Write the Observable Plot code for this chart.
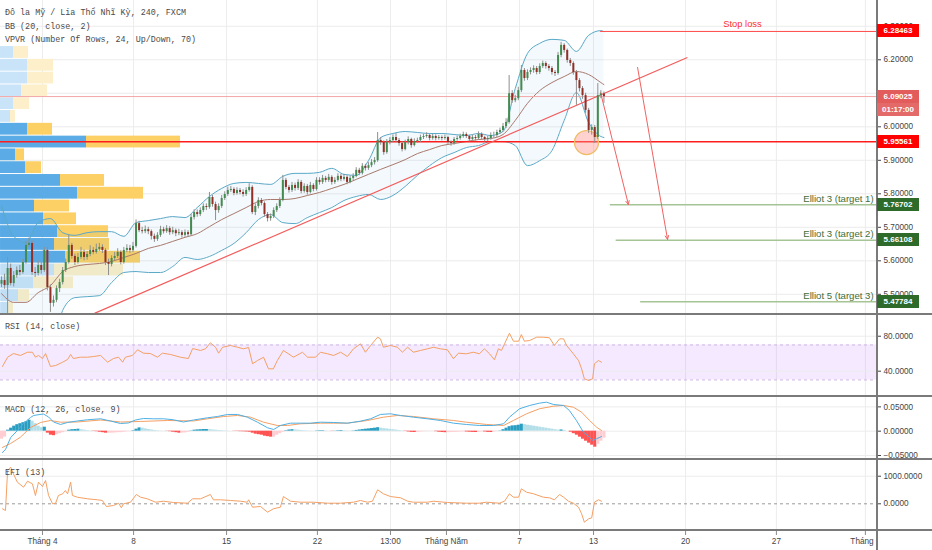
<!DOCTYPE html>
<html><head><meta charset="utf-8">
<script src="https://cdn.jsdelivr.net/npm/d3@7"></script>
<script src="https://cdn.jsdelivr.net/npm/@observablehq/plot@0.6"></script>
<style>
body{margin:0;background:#fff;}
#chart{position:relative;width:932px;height:550px;overflow:hidden;background:#fff;font-family:"Liberation Sans",Arial,sans-serif;}
#chart svg{position:absolute;left:0;max-width:none !important;}
.legend{position:absolute;left:5px;font-family:"Liberation Mono","DejaVu Sans Mono",monospace;font-size:8.4px;line-height:10px;color:#4a4a4a;white-space:pre;}
.box{position:absolute;left:877px;width:42px;height:13px;line-height:13px;font-size:8px;font-weight:bold;color:#fff;text-align:center;font-family:"Liberation Sans",Arial,sans-serif;}
.sep{position:absolute;left:0;width:932px;height:2px;background:#7a7a7a;}
</style></head><body><div id="chart"></div><script>
// ---------- DATA ----------
const firstOpen = 5.530;
const closes = [5.541,5.526,5.577,5.532,5.556,5.571,5.565,5.595,5.646,5.652,
 5.565,5.562,5.586,5.571,5.631,5.520,5.473,5.482,5.517,5.535,
 5.571,5.595,5.646,5.613,5.595,5.610,5.625,5.610,5.619,5.631,
 5.625,5.634,5.640,5.631,5.595,5.589,5.607,5.613,5.625,5.595,
 5.631,5.637,5.631,5.643,5.711,5.690,5.687,5.693,5.687,5.673,
 5.664,5.676,5.693,5.687,5.696,5.684,5.690,5.681,5.684,5.676,
 5.684,5.678,5.729,5.744,5.738,5.750,5.762,5.759,5.789,5.768,
 5.750,5.762,5.786,5.798,5.810,5.813,5.801,5.810,5.804,5.798,
 5.810,5.819,5.744,5.762,5.780,5.771,5.738,5.726,5.732,5.750,
 5.762,5.780,5.840,5.819,5.810,5.825,5.816,5.834,5.807,5.822,
 5.804,5.825,5.813,5.840,5.834,5.846,5.840,5.849,5.834,5.840,
 5.852,5.843,5.849,5.834,5.846,5.852,5.870,5.861,5.882,5.876,
 5.884,5.893,5.899,5.959,5.953,5.923,5.953,5.959,5.968,5.959,
 5.950,5.932,5.953,5.962,5.944,5.956,5.959,5.968,5.971,5.974,
 5.965,5.971,5.965,5.968,5.965,5.968,5.953,5.950,5.962,5.965,
 5.971,5.977,5.971,5.962,5.968,5.965,5.977,5.968,5.962,5.965,
 5.974,5.974,5.983,5.989,6.001,6.013,6.099,6.078,6.084,6.108,
 6.168,6.144,6.162,6.168,6.174,6.162,6.180,6.189,6.180,6.174,
 6.162,6.159,6.213,6.243,6.228,6.198,6.189,6.162,6.138,6.114,
 6.093,6.049,5.989,5.998,5.968,6.093,6.098,6.090];
const highs = [5.552,5.560,5.610,5.590,5.568,5.582,5.586,5.604,5.658,5.668,
 5.660,5.580,5.600,5.595,5.640,5.640,5.528,5.495,5.525,5.545,
 5.580,5.605,5.676,5.652,5.620,5.622,5.640,5.632,5.628,5.645,
 5.640,5.650,5.652,5.648,5.636,5.605,5.615,5.625,5.636,5.630,
 5.640,5.648,5.646,5.655,5.722,5.718,5.700,5.704,5.700,5.692,
 5.680,5.684,5.703,5.700,5.705,5.702,5.700,5.695,5.694,5.690,
 5.692,5.690,5.738,5.752,5.752,5.758,5.770,5.770,5.804,5.795,
 5.775,5.770,5.795,5.806,5.820,5.822,5.818,5.818,5.816,5.812,
 5.818,5.830,5.824,5.770,5.788,5.786,5.776,5.744,5.740,5.758,
 5.770,5.788,5.855,5.846,5.825,5.834,5.832,5.842,5.840,5.830,
 5.828,5.834,5.830,5.848,5.848,5.855,5.852,5.858,5.854,5.848,
 5.860,5.858,5.858,5.854,5.853,5.860,5.878,5.876,5.890,5.888,
 5.893,5.902,5.908,5.983,5.968,5.958,5.962,5.968,5.976,5.980,
 5.965,5.955,5.960,5.970,5.966,5.964,5.966,5.975,5.978,5.982,
 5.978,5.977,5.976,5.974,5.973,5.975,5.972,5.958,5.968,5.972,
 5.978,5.984,5.982,5.975,5.975,5.974,5.985,5.982,5.972,5.972,
 5.982,5.984,5.990,5.996,6.010,6.024,6.153,6.108,6.094,6.118,
 6.183,6.174,6.170,6.176,6.182,6.180,6.188,6.196,6.194,6.186,
 6.180,6.168,6.222,6.252,6.248,6.232,6.204,6.194,6.168,6.144,
 6.120,6.100,6.055,6.006,6.004,6.129,6.108,6.104];
const lows = [5.520,5.515,5.443,5.525,5.522,5.548,5.555,5.560,5.590,5.640,
 5.556,5.550,5.555,5.560,5.565,5.510,5.446,5.462,5.475,5.505,
 5.528,5.565,5.590,5.605,5.586,5.590,5.604,5.600,5.602,5.612,
 5.618,5.620,5.628,5.622,5.586,5.556,5.582,5.600,5.607,5.588,
 5.590,5.624,5.622,5.625,5.638,5.684,5.680,5.681,5.678,5.662,
 5.655,5.658,5.670,5.680,5.682,5.676,5.678,5.672,5.675,5.668,
 5.670,5.670,5.674,5.722,5.730,5.732,5.744,5.750,5.754,5.760,
 5.720,5.742,5.756,5.780,5.792,5.804,5.794,5.796,5.797,5.790,
 5.792,5.805,5.738,5.735,5.755,5.764,5.730,5.716,5.718,5.726,
 5.744,5.756,5.776,5.812,5.802,5.804,5.808,5.810,5.800,5.802,
 5.796,5.800,5.806,5.808,5.826,5.828,5.833,5.834,5.826,5.828,
 5.835,5.836,5.838,5.827,5.830,5.840,5.848,5.854,5.856,5.868,
 5.870,5.878,5.886,5.894,5.945,5.915,5.918,5.946,5.952,5.952,
 5.942,5.925,5.928,5.946,5.936,5.940,5.950,5.953,5.962,5.966,
 5.958,5.960,5.958,5.960,5.958,5.960,5.946,5.942,5.945,5.957,
 5.960,5.966,5.965,5.955,5.957,5.958,5.960,5.962,5.955,5.956,
 5.960,5.966,5.968,5.977,5.984,5.995,6.008,6.070,6.072,6.078,
 6.102,6.136,6.138,6.155,6.160,6.155,6.156,6.174,6.172,6.166,
 6.154,6.150,6.154,6.206,6.220,6.190,6.180,6.154,6.064,6.104,
 6.082,6.040,5.980,5.975,5.950,5.962,6.084,6.070];

// Bollinger Bands (20, close, 2)
const bbK = [0,4,8,12,16,20,24,28,32,36,40,44,48,52,56,60,64,68,72,76,80,84,88,92,96,100,104,108,112,116,120,124,128,132,136,140,144,148,152,156,160,164,168,172,176,180,184,188,192,196,197];
const bbUpper = [5.765,5.673,5.655,5.714,5.726,5.684,5.676,5.684,5.687,5.687,5.673,5.714,5.720,5.726,5.732,5.729,5.759,5.792,5.816,5.831,5.834,5.831,5.828,5.852,5.861,5.861,5.864,5.876,5.858,5.855,5.899,5.968,5.980,5.986,5.983,5.980,5.980,5.977,5.974,5.980,5.974,5.986,6.114,6.219,6.249,6.261,6.258,6.225,6.273,6.287,6.284];
const bbBasis = [5.502,5.476,5.476,5.505,5.526,5.568,5.583,5.589,5.592,5.598,5.610,5.622,5.637,5.646,5.658,5.670,5.681,5.702,5.723,5.741,5.759,5.777,5.783,5.783,5.786,5.795,5.804,5.816,5.828,5.843,5.858,5.873,5.887,5.902,5.920,5.932,5.944,5.950,5.956,5.962,5.965,5.977,6.019,6.070,6.108,6.132,6.150,6.165,6.156,6.132,6.126];
const bbLower = [5.240,5.279,5.296,5.296,5.326,5.452,5.490,5.493,5.496,5.535,5.565,5.568,5.565,5.565,5.583,5.610,5.604,5.613,5.631,5.652,5.684,5.723,5.738,5.714,5.711,5.729,5.744,5.759,5.780,5.792,5.798,5.783,5.795,5.822,5.855,5.884,5.908,5.923,5.938,5.944,5.956,5.956,5.944,5.884,5.899,5.929,6.019,6.102,6.013,5.971,5.968];

// VPVR (24 rows, up/down, 70% value area)
const vpTop = 6.241, vpStep = 0.0382;
const vpUp   = [13,27,27,21,13,10,27,86,15,25,60,77,34,43,57,54,65,54,33,18,8,4,2,1];
const vpDown = [15,26,26,26,16,5,25,94,9,16,44,66,35,33,51,55,75,69,40,11,5,3,2,1];
const vaRows = [6,16];

// RSI (14, close)
const rsiK = [0.3,2.0,3.9,6.2,8.5,10.1,11.1,12.1,13.4,14.4,16.0,17.7,20.0,21.6,22.6,23.5,25.8,28.1,30.1,32.4,34.7,36.6,38.3,39.6,40.5,42.8,44.5,46.4,48.7,51.0,52.6,55.3,58.5,61.1,62.5,65.1,66.7,68.3,70.0,71.0,72.3,74.9,77.2,79.1,80.8,82.1,83.7,85.7,87.3,88.9,90.2,92.2,95.5,98.4,100.1,102.7,104.3,106.6,108.6,110.9,113.1,115.1,117.4,119.0,120.7,123.0,123.9,124.9,127.2,129.5,131.1,132.8,134.7,137.0,139.3,141.3,143.5,145.8,147.8,149.4,152.0,154.3,156.3,157.9,159.6,161.2,162.5,163.5,164.5,166.1,167.4,169.1,170.0,171.0,172.7,175.0,177.2,179.2,180.8,182.5,183.8,184.8,187.0,188.7,189.7,190.6,192.0,193.3,193.9,195.2,196.2];
const rsiV = [45.4,56,60.2,58,61.7,61.7,56,58,54.5,60.2,45.4,46.5,50.3,53.4,59.1,54.5,56,56,56.8,58,50.3,54.5,56,50.3,56,58,64.5,60.6,60.2,56,60.6,59.1,56,54.5,65.9,63.7,65.6,72.5,67.4,60.6,67.4,69.4,67.4,65.6,67.1,48.5,52.2,56,42.7,42.7,52.2,63.7,56,61.7,56,56,61.7,59.9,58,61.7,56.8,65.6,71.3,61.7,69.4,78.9,77,67.4,69.4,67.4,61.7,67.4,61.7,63.7,65.6,67.4,65.6,64.5,54.2,60.6,59.9,61.7,59.9,65.6,59.9,53,65.6,63.7,71.3,83.4,74.3,74.3,81.9,74.3,75.1,78.9,78.9,78.2,69.4,77,77,69.4,59.9,52.2,42.7,31.3,29.4,31.3,48.5,52.2,50.3];

// MACD (12, 26, close, 9)
const macdK = [0.3,1.3,3.0,5.2,7.2,9.5,10.5,13.7,15.4,17.0,19.3,21.6,24.8,28.1,32.4,35.6,38.9,41.5,43.8,46.4,49.7,53.0,56.2,59.5,62.8,67.4,70.6,73.9,77.2,80.4,83.7,87.0,89.0,91.2,94.5,97.8,101.0,104.3,108.6,113.1,117.4,120.7,123.9,127.2,130.5,134.7,139.3,143.5,147.8,152.0,156.3,160.9,164.2,166.1,169.4,172.7,175.9,178.2,180.5,183.8,185.7,188.0,190.3,192.0,193.3,194.6,196.2];
const macdV = [-0.0438,-0.0377,-0.0130,0.0014,0.0158,0.0282,0.0323,0.0354,0.0292,0.0189,0.0138,0.0179,0.0210,0.0235,0.0255,0.0210,0.0158,0.0169,0.0230,0.0261,0.0255,0.0255,0.0235,0.0189,0.0230,0.0276,0.0302,0.0344,0.0344,0.0288,0.0185,0.0070,0.0035,0.0117,0.0165,0.0165,0.0165,0.0185,0.0179,0.0165,0.0206,0.0255,0.0344,0.0358,0.0323,0.0288,0.0255,0.0220,0.0165,0.0138,0.0117,0.0117,0.0152,0.0288,0.0461,0.0529,0.0576,0.0597,0.0549,0.0529,0.0426,0.0220,-0.0021,-0.0109,-0.0191,-0.0156,-0.0109];
const sigK = [0.3,3.0,6.2,9.5,12.8,16.0,19.3,24.8,32.4,38.9,45.5,54.3,62.8,67.4,72.6,77.2,81.4,85.7,90.2,93.5,97.8,104.3,113.1,119.7,124.9,129.5,134.7,141.3,147.8,152.0,158.6,164.2,167.4,171.7,175.9,180.5,183.8,187.0,189.7,192.3,194.6,196.2];
const sigV = [-0.0335,-0.0253,-0.0123,0.0076,0.0179,0.0220,0.0185,0.0189,0.0230,0.0189,0.0200,0.0220,0.0210,0.0255,0.0302,0.0323,0.0288,0.0185,0.0117,0.0117,0.0152,0.0165,0.0165,0.0220,0.0288,0.0323,0.0302,0.0255,0.0220,0.0185,0.0138,0.0117,0.0220,0.0358,0.0461,0.0514,0.0529,0.0494,0.0391,0.0220,0.0082,0.0014];
const histV = [-0.0165,-0.0123,0.0021,0.0062,0.0103,0.0134,0.0154,0.0175,0.0196,0.0226,
 0.0206,0.0154,0.0103,0.0072,0.0082,-0.0041,-0.0082,-0.0093,-0.0072,-0.0051,
 -0.0031,-0.0010,0.0021,0.0031,0.0035,0.0041,0.0031,0.0021,0.0012,0.0006,
 -0.0006,-0.0010,-0.0021,-0.0031,-0.0041,-0.0041,-0.0041,-0.0037,-0.0031,-0.0031,
 -0.0021,-0.0010,-0.0004,0.0010,0.0041,0.0068,0.0062,0.0047,0.0035,0.0025,
 0.0014,0.0008,0.0004,0.0002,-0.0004,-0.0010,-0.0021,-0.0031,-0.0041,-0.0041,
 -0.0035,-0.0021,0.0006,0.0021,0.0027,0.0031,0.0035,0.0035,0.0031,0.0025,
 0.0021,0.0014,0.0010,0.0006,0.0004,0.0000,-0.0004,-0.0006,-0.0010,-0.0012,
 -0.0016,-0.0021,-0.0041,-0.0062,-0.0072,-0.0082,-0.0103,-0.0113,-0.0123,-0.0123,
 -0.0082,-0.0051,-0.0021,0.0010,0.0025,0.0031,0.0027,0.0021,0.0014,0.0010,
 0.0006,0.0004,0.0002,0.0006,0.0010,0.0010,0.0006,0.0002,-0.0004,0.0004,
 0.0010,0.0014,0.0010,0.0006,0.0004,0.0006,0.0016,0.0025,0.0033,0.0041,
 0.0047,0.0054,0.0062,0.0072,0.0062,0.0051,0.0045,0.0037,0.0031,0.0023,
 0.0014,0.0006,-0.0006,-0.0016,-0.0025,-0.0027,-0.0025,-0.0016,-0.0010,-0.0006,
 -0.0004,-0.0004,-0.0010,-0.0021,-0.0027,-0.0031,-0.0031,-0.0027,-0.0025,-0.0021,
 -0.0016,-0.0014,-0.0016,-0.0021,-0.0025,-0.0027,-0.0021,-0.0014,-0.0016,-0.0025,
 -0.0027,-0.0016,-0.0006,0.0006,0.0031,0.0062,0.0093,0.0109,0.0113,0.0123,
 0.0144,0.0134,0.0123,0.0113,0.0103,0.0093,0.0082,0.0072,0.0062,0.0051,
 0.0041,0.0031,0.0021,0.0025,0.0016,0.0000,-0.0021,-0.0051,-0.0082,-0.0123,
 -0.0165,-0.0206,-0.0247,-0.0288,-0.0329,-0.0268,-0.0206,-0.0144];

// EFI (13)
const efiK = [0.3,1.3,2.0,3.0,3.9,5.2,7.2,8.5,10.1,11.1,12.1,13.4,14.4,15.4,16.7,17.7,18.6,20.0,20.9,21.6,22.6,23.2,24.8,28.1,31.4,33.0,34.3,36.6,38.3,39.2,39.9,42.2,44.1,45.5,47.7,50.4,53.0,56.2,60.8,62.5,65.1,68.3,69.3,71.6,74.9,78.2,80.4,80.8,82.1,84.7,87.0,88.9,91.2,92.2,94.5,97.8,102.0,106.6,110.9,115.1,117.4,119.7,121.3,123.0,124.9,127.2,130.5,132.8,134.7,139.3,141.3,145.8,152.0,156.3,158.6,162.8,164.5,166.1,167.4,169.1,170.0,171.7,174.0,177.2,179.2,180.8,182.5,183.8,185.4,187.0,188.7,189.7,190.6,192.0,193.0,193.9,195.2,196.2];
const efiV = [-181,-243,1207,1326,1087,783,601,819,725,301,783,627,844,301,0,22,301,362,482,362,783,301,239,181,145,120,-98,-62,22,-145,0,58,337,239,181,58,94,47,22,181,181,337,145,145,120,94,58,145,-123,-98,-304,-181,-123,264,94,58,58,22,22,58,120,58,94,507,362,264,217,94,58,58,94,47,22,22,58,22,94,362,239,239,543,420,362,239,217,145,337,239,94,22,-123,-362,-667,-543,-507,58,145,94];

// Axis ticks
const priceTicks = [5.5,5.6,5.7,5.8,5.9,6.0,6.1,6.2,6.3];
const dateK = [13.4,43.2,73.6,103.3,127.2,145.5,169.4,193.6,223.7,253.4,282.5];
const dateLabels = ["Tháng 4","8","15","22","13:00","Tháng Năm","7","13","20","27","Tháng 6"];

// Drawings / annotations
const lastPrice = 6.09025, countdown = "01:17:00";
const support = 5.95561;
const stopLoss = {price: 6.28463, startK: 195.9, labelK: 242.3, label: "Stop loss"};
const targets = [
  {name: "Elliot 3 (target 1)", price: 5.76702, startK: 199.1},
  {name: "Elliot 3 (target 2)", price: 5.66108, startK: 201.0},
  {name: "Elliot 5 (target 3)", price: 5.47784, startK: 209.0}];
const targetLabelK = 285.2;
const trend = {k1: 30.4, p1: 5.443, k2: 224.3, p2: 6.207};
const arrows = [{k1: 195.9, p1: 6.102, k2: 205.0, p2: 5.768}, {k1: 208.0, p1: 6.177, k2: 217.8, p2: 5.664}];
const circle = {k: 191.3, p: 5.953};

// ---------- BUILD ----------
const xDomain = [-0.327, 286.46];
const mainDomain = [5.4427, 6.377];
const GRID = "#ececec", ORANGE = "#f5a064", UP = "#438b4f", DOWN = "#922f27";
const fmt5 = d3.format(".5f");
const baseStyle = {background: "transparent", fontFamily: "'Liberation Sans', Arial, sans-serif", fontSize: "8.2px", color: "#444", maxWidth: "none"};
const base = {width: 932, marginLeft: 0, marginRight: 55, marginTop: 0, marginBottom: 0,
  x: {domain: xDomain, axis: null}, color: {type: "identity"}, style: baseStyle};
const axisOpts = {anchor: "right", tickSize: 3, tickPadding: 3, label: null};

const candles = closes.map((c, i) => ({k: i, open: i ? closes[i - 1] : firstOpen, close: c, high: highs[i], low: lows[i]}));
const bb = bbK.map((k, i) => ({k, upper: bbUpper[i], basis: bbBasis[i], lower: bbLower[i]}));
const vpBars = [];
vpUp.forEach((u, r) => {
  const inVA = r >= vaRows[0] && r <= vaRows[1];
  const top = vpTop - r * vpStep, bottom = vpTop - (r + 1) * vpStep;
  vpBars.push({x1: 0, x2: u, top, bottom, fill: inVA ? "#5aabe6" : "#c9e4f8"});
  vpBars.push({x1: u, x2: u + vpDown[r], top, bottom, fill: inVA ? "#fcd065" : "#fdefc9"});
});
const rsi = rsiK.map((k, i) => ({k, v: rsiV[i]}));
const macd = macdK.map((k, i) => ({k, v: macdV[i]}));
const sig = sigK.map((k, i) => ({k, v: sigV[i]}));
const hist = histV.map((v, i) => {
  const p = i ? histV[i - 1] : v;
  return {k: i, v, color: v >= 0 ? (v >= p ? "#2a9ec1" : "#b4dfe9") : (v < p ? "#ff5252" : "#ffcdd2")};
});
const efi = efiK.map((k, i) => ({k, v: efiV[i]}));

const chart = document.getElementById("chart");
function put(svg, top) { svg.style.top = top + "px"; chart.appendChild(svg); return svg; }

// grid layer
put(Plot.plot({...base, height: 313, y: {domain: mainDomain, axis: null}, marks: [
  Plot.ruleX(dateK, {stroke: GRID}),
  Plot.ruleY(priceTicks, {stroke: GRID})
]}), 0);

// VPVR layer
put(Plot.plot({width: 932, height: 313, marginLeft: 0, marginRight: 55, marginTop: 0, marginBottom: 0,
  x: {domain: [0, 877], axis: null}, y: {domain: mainDomain, axis: null}, color: {type: "identity"},
  style: {background: "transparent", maxWidth: "none"}, marks: [
  Plot.rect(vpBars, {x1: "x1", x2: "x2", y1: "bottom", y2: "top", fill: "fill", insetTop: 0.5, insetBottom: 0.5, clip: true})
]}), 0);

// main layer
const mainPlot = put(Plot.plot({...base, height: 313, y: {domain: mainDomain, axis: null}, marks: [
  Plot.areaY(bb, {x: "k", y1: "lower", y2: "upper", fill: "#4fa8cf", fillOpacity: 0.07, curve: "monotone-x", clip: true}),
  Plot.line(bb, {x: "k", y: "upper", stroke: "#5ba9c8", strokeWidth: 1, curve: "monotone-x", clip: true}),
  Plot.line(bb, {x: "k", y: "lower", stroke: "#5ba9c8", strokeWidth: 1, curve: "monotone-x", clip: true}),
  Plot.line(bb, {x: "k", y: "basis", stroke: "#a9796d", strokeWidth: 1, curve: "monotone-x", clip: true}),
  Plot.ruleY([lastPrice], {stroke: "#f4a6a6", strokeWidth: 1}),
  Plot.ruleY([support], {stroke: "#ff1c1c", strokeWidth: 1.5}),
  Plot.ruleY([stopLoss], {y: "price", x1: "startK", x2: xDomain[1], stroke: "#ff4a4a", strokeWidth: 1}),
  Plot.ruleY(targets, {y: "price", x1: "startK", x2: xDomain[1], stroke: "#a6c596", strokeWidth: 1.5}),
  Plot.link([trend], {x1: "k1", y1: "p1", x2: "k2", y2: "p2", stroke: "#f45b5b", strokeWidth: 1.2, clip: true}),
  Plot.arrow(arrows, {x1: "k1", y1: "p1", x2: "k2", y2: "p2", stroke: "#f06262", strokeWidth: 1, headLength: 6, headAngle: 50}),
  Plot.dot([circle], {x: "k", y: "p", r: 12, fill: "#ff8f87", fillOpacity: 0.4, stroke: "#f0bd66", strokeWidth: 1.3}),
  Plot.ruleX(candles, {x: "k", y1: "low", y2: "high", stroke: "#8f8f8f", strokeWidth: 1}),
  Plot.ruleX(candles, {x: "k", y1: "open", y2: "close", stroke: d => d.close >= d.open ? UP : DOWN, strokeWidth: 2}),
  Plot.text([stopLoss], {x: "labelK", y: "price", text: "label", dy: -7, fill: "#ff3030", fontSize: 9.4}),
  Plot.text(targets, {x: targetLabelK, y: "price", text: "name", textAnchor: "end", dy: -6, fill: "#3f6e38", fontSize: 9.6}),
  Plot.axisY(priceTicks, {...axisOpts, tickFormat: fmt5})
]}), 0);

// RSI pane
put(Plot.plot({...base, height: 80, y: {domain: [12.2, 103.7], axis: null}, marks: [
  Plot.ruleX(dateK, {stroke: GRID}),
  Plot.rect([{lo: 30, hi: 70}], {x1: xDomain[0], x2: xDomain[1], y1: "lo", y2: "hi", fill: "#a64bf4", fillOpacity: 0.12}),
  Plot.ruleY([80, 40], {stroke: GRID}),
  Plot.ruleY([70, 30], {stroke: "#cbb7e2", strokeDasharray: "3,3"}),
  Plot.line(rsi, {x: "k", y: "v", stroke: ORANGE, strokeWidth: 1}),
  Plot.axisY([80, 40], {...axisOpts, tickFormat: d => d.toFixed(4)})
]}), 315);

// MACD pane
put(Plot.plot({...base, height: 61, y: {domain: [-0.0562, 0.0693], axis: null}, marks: [
  Plot.ruleX(dateK, {stroke: GRID}),
  Plot.ruleY([0.05, 0, -0.05], {stroke: GRID}),
  Plot.ruleX(hist, {x: "k", y1: 0, y2: "v", stroke: "color", strokeWidth: 3.1}),
  Plot.line(sig, {x: "k", y: "v", stroke: ORANGE, strokeWidth: 1}),
  Plot.line(macd, {x: "k", y: "v", stroke: "#4fb0e3", strokeWidth: 1}),
  Plot.axisY([0.05, 0, -0.05], {...axisOpts, tickFormat: fmt5})
]}), 397);

// EFI pane
put(Plot.plot({...base, height: 69, y: {domain: [-931, 1569], axis: null}, marks: [
  Plot.ruleX(dateK, {stroke: GRID}),
  Plot.ruleY([1000], {stroke: GRID}),
  Plot.ruleY([0], {stroke: "#9a9a9a", strokeDasharray: "3,3"}),
  Plot.line(efi, {x: "k", y: "v", stroke: ORANGE, strokeWidth: 1}),
  Plot.axisY([1000, 0], {...axisOpts, tickFormat: d => d.toFixed(4)})
]}), 460);

// time axis (clipped at the price scale)
const axWrap = document.createElement("div");
axWrap.style.cssText = "position:absolute;left:0;top:531px;width:877px;height:19px;overflow:hidden;";
chart.appendChild(axWrap);
const xAxisSvg = Plot.plot({...base, height: 19, marks: [
  Plot.tickX(dateK, {x: d => d, stroke: "#8a8a8a", insetBottom: 15}),
  Plot.text(dateK, {x: d => d, text: (d, i) => dateLabels[i], frameAnchor: "middle", fill: "#444", fontSize: 8.2})
]});
xAxisSvg.style.top = "0px";
xAxisSvg.style.width = "932px";
axWrap.appendChild(xAxisSvg);

// separators and price-scale border
[313, 395, 458, 529].forEach(t => { const s = document.createElement("div"); s.className = "sep"; s.style.top = t + "px"; chart.appendChild(s); });
const vline = document.createElement("div");
vline.style.cssText = "position:absolute;left:876px;top:0;width:2px;height:550px;background:#7a7a7a;";
chart.appendChild(vline);

// legends
function legend(text, top) { const d = document.createElement("div"); d.className = "legend"; d.textContent = text; d.style.top = top + "px"; chart.appendChild(d); }
legend("Đô la Mỹ / Lia Thổ Nhĩ Kỳ, 240, FXCM", 8);
legend("BB (20, close, 2)", 21.5);
legend("VPVR (Number Of Rows, 24, Up/Down, 70)", 35);
legend("RSI (14, close)", 322);
legend("MACD (12, 26, close, 9)", 405);
legend("EFI (13)", 468);

// price-scale labels, positioned with the main y scale
const yMain = mainPlot.scale("y");
function box(text, center, bg) {
  const d = document.createElement("div"); d.className = "box"; d.textContent = text;
  d.style.top = (center - 6.5) + "px"; d.style.background = bg; chart.appendChild(d);
}
box(fmt5(stopLoss.price), yMain.apply(stopLoss.price), "#ff0000");
box(fmt5(lastPrice), yMain.apply(lastPrice), "#e25c5c");
box(countdown, yMain.apply(lastPrice) + 13.8, "#e46a6a");
box(fmt5(support), yMain.apply(support), "#ff0000");
targets.forEach(t => box(fmt5(t.price), yMain.apply(t.price), "#2e6b2b"));
</script></body></html>
